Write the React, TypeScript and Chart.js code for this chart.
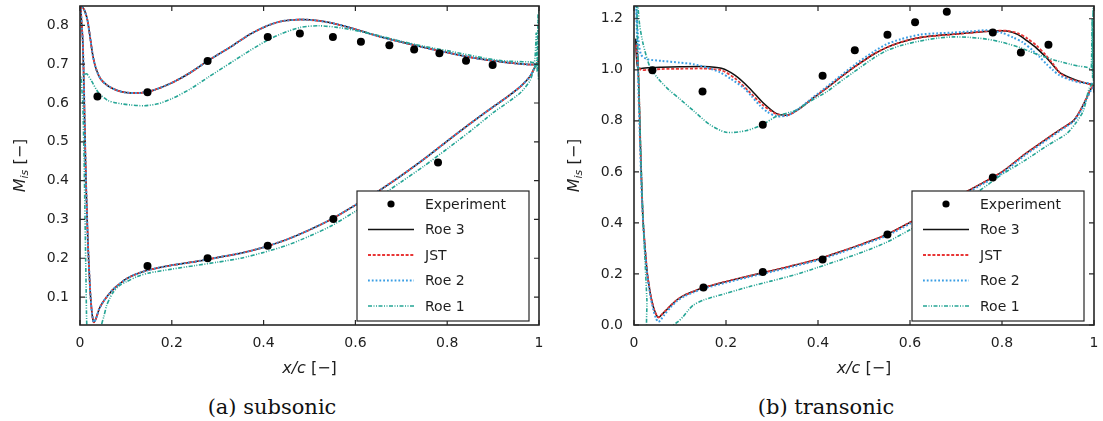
import React, { useEffect, useRef } from "react";
import { Chart, registerables } from "chart.js";
Chart.register(...registerables);

type P = [number, number];

// ---------- ticks, labels ----------
const xTickValues = [0, 0.2, 0.4, 0.6, 0.8, 1];
const xTickLabels = ["0", "0.2", "0.4", "0.6", "0.8", "1"];
const yTickValuesA = [0.1, 0.2, 0.3, 0.4, 0.5, 0.6, 0.7, 0.8];
const yTickLabelsA = ["0.1", "0.2", "0.3", "0.4", "0.5", "0.6", "0.7", "0.8"];
const yTickValuesB = [0, 0.2, 0.4, 0.6, 0.8, 1.0, 1.2];
const yTickLabelsB = ["0.0", "0.2", "0.4", "0.6", "0.8", "1.0", "1.2"];
const seriesNames = ["Experiment", "Roe 3", "JST", "Roe 2", "Roe 1"];
const captions = ["(a) subsonic", "(b) transonic"];

// ---------- (a) subsonic ----------
const expA: P[] = [
  [0.038, 0.617], [0.147, 0.628], [0.278, 0.708], [0.409, 0.77], [0.479, 0.779],
  [0.551, 0.77], [0.612, 0.758], [0.674, 0.749], [0.728, 0.738], [0.783, 0.728],
  [0.841, 0.709], [0.899, 0.698],
  [0.147, 0.18], [0.278, 0.2], [0.409, 0.232], [0.552, 0.301], [0.78, 0.447],
];

const roe3A: P[] = [
  [1.0, 0.70], [0.98, 0.699], [0.95, 0.702], [0.92, 0.706], [0.88, 0.712], [0.85, 0.718],
  [0.8, 0.73], [0.75, 0.743], [0.7, 0.757], [0.65, 0.772], [0.6, 0.79], [0.56, 0.803],
  [0.52, 0.812], [0.48, 0.815], [0.44, 0.811], [0.41, 0.8], [0.37, 0.777], [0.33, 0.746],
  [0.28, 0.71], [0.24, 0.678], [0.2, 0.652], [0.16, 0.633], [0.13, 0.626], [0.1, 0.627],
  [0.08, 0.633], [0.06, 0.645], [0.045, 0.662], [0.035, 0.688], [0.028, 0.722],
  [0.022, 0.77], [0.016, 0.815], [0.01, 0.838], [0.004, 0.848],
  [0.002, 0.84], [0.006, 0.76], [0.009, 0.62], [0.012, 0.45], [0.015, 0.32],
  [0.018, 0.22], [0.022, 0.12], [0.026, 0.06], [0.03, 0.035], [0.035, 0.045],
  [0.042, 0.07], [0.05, 0.087], [0.06, 0.103], [0.07, 0.117], [0.08, 0.128],
  [0.1, 0.146], [0.12, 0.158], [0.15, 0.17], [0.2, 0.182], [0.25, 0.191], [0.3, 0.202],
  [0.35, 0.213], [0.4, 0.228], [0.45, 0.248], [0.5, 0.273], [0.55, 0.302], [0.6, 0.337],
  [0.65, 0.373], [0.7, 0.413], [0.75, 0.456], [0.8, 0.502], [0.85, 0.547], [0.9, 0.59],
  [0.93, 0.615], [0.96, 0.643], [0.98, 0.668], [0.99, 0.69], [1.0, 0.71],
];
const jstA: P[] = roe3A;
const roe2A: P[] = roe3A;

const roe1A: P[] = [
  [1.0, 0.84], [0.999, 0.66], [0.998, 0.83], [0.996, 0.68], [0.994, 0.78], [0.99, 0.705],
  [0.98, 0.706], [0.95, 0.707], [0.92, 0.709], [0.88, 0.716], [0.85, 0.723], [0.8, 0.735],
  [0.75, 0.746], [0.7, 0.759], [0.65, 0.774], [0.6, 0.787], [0.56, 0.795], [0.52, 0.799],
  [0.48, 0.795], [0.44, 0.779], [0.41, 0.763], [0.37, 0.735], [0.33, 0.705], [0.28, 0.667],
  [0.24, 0.636], [0.2, 0.611], [0.17, 0.598], [0.14, 0.593], [0.11, 0.595], [0.08, 0.6],
  [0.06, 0.607], [0.04, 0.627], [0.025, 0.657], [0.015, 0.675], [0.008, 0.673], [0.003, 0.666],
  [0.006, 0.6], [0.009, 0.45], [0.011, 0.3], [0.013, 0.15], [0.015, 0.02], [0.02, -0.06],
  [0.04, -0.06], [0.047, 0.028], [0.052, 0.05], [0.058, 0.078], [0.065, 0.097],
  [0.072, 0.112], [0.085, 0.129], [0.102, 0.14], [0.125, 0.153], [0.15, 0.162],
  [0.2, 0.172], [0.25, 0.181], [0.3, 0.19], [0.35, 0.2], [0.4, 0.215], [0.45, 0.233],
  [0.5, 0.257], [0.55, 0.285], [0.6, 0.321], [0.65, 0.357], [0.7, 0.397], [0.75, 0.438],
  [0.8, 0.482], [0.85, 0.527], [0.9, 0.575], [0.93, 0.6], [0.96, 0.627], [0.98, 0.657],
  [0.99, 0.69], [1.0, 0.72],
];

// ---------- (b) transonic ----------
const expB: P[] = [
  [0.04, 0.998], [0.149, 0.915], [0.28, 0.785], [0.41, 0.977], [0.48, 1.077],
  [0.551, 1.137], [0.611, 1.186], [0.68, 1.227], [0.78, 1.146], [0.841, 1.068],
  [0.901, 1.098],
  [0.151, 0.147], [0.28, 0.208], [0.41, 0.257], [0.551, 0.355], [0.78, 0.578],
];

const roe3B: P[] = [
  [1.0, 0.91], [0.998, 0.94], [0.99, 0.945], [0.98, 0.948], [0.96, 0.96], [0.94, 0.975],
  [0.925, 0.99], [0.91, 1.02], [0.895, 1.05], [0.875, 1.085], [0.855, 1.113], [0.835, 1.138],
  [0.81, 1.152], [0.78, 1.152], [0.75, 1.148], [0.7, 1.14], [0.66, 1.134], [0.62, 1.126],
  [0.58, 1.108], [0.55, 1.088], [0.52, 1.06], [0.48, 1.012], [0.45, 0.972], [0.42, 0.93],
  [0.39, 0.89], [0.36, 0.848], [0.335, 0.823], [0.31, 0.828], [0.28, 0.872], [0.25, 0.93],
  [0.22, 0.978], [0.19, 1.006], [0.15, 1.013], [0.1, 1.012], [0.06, 1.01], [0.03, 1.008],
  [0.015, 1.005], [0.008, 1.01], [0.005, 1.06], [0.004, 1.12],
  [0.008, 1.05], [0.011, 0.9], [0.014, 0.7], [0.017, 0.53], [0.02, 0.4], [0.025, 0.28],
  [0.029, 0.2], [0.034, 0.14], [0.038, 0.1], [0.044, 0.06], [0.05, 0.035], [0.054, 0.03],
  [0.06, 0.04], [0.071, 0.06], [0.082, 0.08], [0.093, 0.098], [0.11, 0.117], [0.13, 0.132],
  [0.15, 0.146], [0.2, 0.17], [0.25, 0.192], [0.3, 0.213], [0.35, 0.235], [0.4, 0.258],
  [0.45, 0.288], [0.5, 0.32], [0.55, 0.355], [0.6, 0.402], [0.65, 0.451], [0.7, 0.5],
  [0.75, 0.549], [0.8, 0.6], [0.85, 0.67], [0.9, 0.733], [0.93, 0.77], [0.955, 0.8],
  [0.97, 0.84], [0.984, 0.89], [0.995, 0.93], [1.0, 0.93],
];

const jstB: P[] = [
  [1.0, 0.93], [0.99, 0.944], [0.96, 0.958], [0.94, 0.97], [0.925, 0.99], [0.91, 1.025],
  [0.895, 1.058], [0.875, 1.095], [0.855, 1.123], [0.835, 1.143], [0.81, 1.153],
  [0.78, 1.152], [0.75, 1.148], [0.7, 1.14], [0.66, 1.134], [0.62, 1.126], [0.58, 1.108],
  [0.55, 1.088], [0.52, 1.06], [0.48, 1.012], [0.45, 0.972], [0.42, 0.93], [0.39, 0.89],
  [0.36, 0.848], [0.335, 0.822], [0.31, 0.826], [0.28, 0.862], [0.25, 0.915], [0.22, 0.966],
  [0.19, 0.998], [0.15, 1.005], [0.1, 1.004], [0.06, 1.003], [0.03, 1.0], [0.015, 1.0],
  [0.008, 1.02], [0.005, 1.1],
  [0.008, 1.05], [0.011, 0.9], [0.014, 0.7], [0.017, 0.53], [0.02, 0.4], [0.025, 0.28],
  [0.029, 0.2], [0.034, 0.14], [0.038, 0.1], [0.044, 0.06], [0.05, 0.035], [0.054, 0.03],
  [0.06, 0.04], [0.071, 0.06], [0.082, 0.08], [0.093, 0.098], [0.11, 0.117], [0.13, 0.132],
  [0.15, 0.146], [0.2, 0.17], [0.25, 0.192], [0.3, 0.213], [0.35, 0.235], [0.4, 0.258],
  [0.45, 0.288], [0.5, 0.32], [0.55, 0.355], [0.6, 0.402], [0.65, 0.451], [0.7, 0.5],
  [0.75, 0.549], [0.8, 0.6], [0.85, 0.67], [0.9, 0.733], [0.93, 0.77], [0.955, 0.8],
  [0.97, 0.84], [0.984, 0.89], [0.995, 0.93], [1.0, 0.93],
];

const roe2B: P[] = [
  [1.0, 0.93], [0.995, 0.945], [0.97, 0.95], [0.95, 0.96], [0.926, 0.977], [0.91, 1.0],
  [0.897, 1.022], [0.882, 1.05], [0.868, 1.074], [0.845, 1.108], [0.825, 1.126],
  [0.8, 1.145], [0.767, 1.155], [0.73, 1.15], [0.694, 1.146], [0.66, 1.143], [0.622, 1.138],
  [0.58, 1.12], [0.549, 1.1], [0.52, 1.07], [0.48, 1.02], [0.45, 0.978], [0.42, 0.935],
  [0.39, 0.893], [0.36, 0.85], [0.335, 0.822], [0.31, 0.818], [0.29, 0.835], [0.274, 0.859],
  [0.255, 0.898], [0.238, 0.93], [0.21, 0.965], [0.187, 0.99], [0.16, 1.008], [0.129, 1.022],
  [0.1, 1.028], [0.06, 1.035], [0.028, 1.042], [0.015, 1.06], [0.008, 1.15], [0.004, 1.3],
  [0.007, 1.1], [0.01, 0.9], [0.013, 0.72], [0.016, 0.55], [0.02, 0.4], [0.025, 0.27],
  [0.03, 0.18], [0.036, 0.11], [0.042, 0.06], [0.048, 0.025], [0.053, 0.012], [0.058, 0.02],
  [0.066, 0.04], [0.08, 0.07], [0.093, 0.093], [0.11, 0.113], [0.13, 0.128], [0.15, 0.142],
  [0.2, 0.166], [0.25, 0.188], [0.3, 0.209], [0.35, 0.231], [0.4, 0.254], [0.45, 0.284],
  [0.5, 0.316], [0.55, 0.35], [0.6, 0.397], [0.65, 0.446], [0.7, 0.494], [0.75, 0.544],
  [0.8, 0.595], [0.85, 0.665], [0.9, 0.728], [0.93, 0.766], [0.955, 0.797], [0.97, 0.835],
  [0.984, 0.885], [0.995, 0.925], [1.0, 0.93],
];

const roe1B: P[] = [
  [1.0, 1.26], [0.999, 0.95], [0.998, 1.24], [0.997, 0.97], [0.996, 1.2], [0.994, 1.0],
  [0.99, 1.005], [0.984, 1.01], [0.965, 1.015], [0.948, 1.022], [0.92, 1.035], [0.897, 1.048],
  [0.87, 1.065], [0.839, 1.087], [0.8, 1.108], [0.767, 1.12], [0.73, 1.127], [0.694, 1.129],
  [0.66, 1.124], [0.622, 1.113], [0.58, 1.095], [0.549, 1.075], [0.52, 1.045], [0.477, 0.99],
  [0.448, 0.953], [0.42, 0.915], [0.383, 0.877], [0.35, 0.84], [0.31, 0.818], [0.28, 0.786],
  [0.245, 0.762], [0.2, 0.755], [0.165, 0.785], [0.129, 0.84], [0.1, 0.885], [0.078, 0.918],
  [0.055, 0.96], [0.035, 1.01], [0.02, 1.1], [0.012, 1.18], [0.006, 1.3],
  [0.008, 1.1], [0.012, 0.85], [0.016, 0.6], [0.02, 0.4], [0.024, 0.25], [0.028, 0.1],
  [0.032, -0.06], [0.08, -0.06], [0.086, 0.0], [0.095, 0.012], [0.107, 0.033],
  [0.118, 0.058], [0.129, 0.078], [0.151, 0.098], [0.2, 0.124], [0.25, 0.15], [0.3, 0.173],
  [0.35, 0.197], [0.4, 0.226], [0.45, 0.256], [0.5, 0.288], [0.55, 0.325], [0.6, 0.373],
  [0.65, 0.42], [0.7, 0.47], [0.75, 0.525], [0.8, 0.59], [0.85, 0.645], [0.9, 0.705],
  [0.94, 0.749], [0.96, 0.79], [0.977, 0.84], [0.99, 0.93], [1.0, 0.95],
];

// ---------- styles ----------
const FONT = "'DejaVu Sans'";
const TEXT = "#1e1e1e";
const STYLES: Record<string, { color: string; width: number; dash: number[] }> = {
  "Roe 3": { color: "#111111", width: 1.5, dash: [] },
  JST: { color: "#e83535", width: 1.8, dash: [3, 1.7] },
  "Roe 2": { color: "#3a9ee4", width: 2, dash: [1.8, 2] },
  "Roe 1": { color: "#25a595", width: 1.6, dash: [4, 1.5, 1, 1.5, 1, 1.5] },
};

const toXY = (arr: P[]) => arr.map(([x, y]) => ({ x, y }));

function buildDatasets(exp: P[], curves: Record<string, P[]>) {
  const lines = ["Roe 1", "Roe 2", "JST", "Roe 3"].map((n, i) => ({
    label: n,
    data: toXY(curves[n]),
    showLine: true,
    pointRadius: 0,
    pointHoverRadius: 0,
    borderColor: STYLES[n].color,
    backgroundColor: STYLES[n].color,
    borderWidth: STYLES[n].width,
    borderDash: STYLES[n].dash,
    tension: 0.25,
    fill: false,
    order: i + 1,
  }));
  return [
    {
      label: "Experiment",
      data: toXY(exp),
      showLine: false,
      pointRadius: 4,
      pointHoverRadius: 4,
      pointBackgroundColor: "#000",
      pointBorderColor: "#000",
      pointBorderWidth: 0,
      order: 0,
    },
    ...lines,
  ];
}

function labelFor(values: number[], labels: string[], v: number) {
  const i = values.findIndex((t) => Math.abs(t - v) < 1e-9);
  return i >= 0 ? labels[i] : "";
}

const framePlugin = {
  id: "frame",
  afterDraw(chart: any) {
    const { ctx, chartArea: a, scales } = chart;
    const xs = scales.x;
    const ys = scales.y;
    ctx.save();
    // inward ticks
    ctx.strokeStyle = "#262626";
    ctx.lineWidth = 1.2;
    ctx.setLineDash([]);
    ctx.beginPath();
    for (const t of xs.ticks) {
      const p = xs.getPixelForValue(t.value);
      ctx.moveTo(p, a.bottom);
      ctx.lineTo(p, a.bottom - 5);
      ctx.moveTo(p, a.top);
      ctx.lineTo(p, a.top + 5);
    }
    for (const t of ys.ticks) {
      const p = ys.getPixelForValue(t.value);
      ctx.moveTo(a.left, p);
      ctx.lineTo(a.left + 5, p);
      ctx.moveTo(a.right, p);
      ctx.lineTo(a.right - 5, p);
    }
    ctx.stroke();
    // box
    ctx.lineWidth = 1.6;
    ctx.strokeRect(a.left, a.top, a.right - a.left, a.bottom - a.top);

    // legend
    const w = 172;
    const h = 130;
    const x1 = a.right - 10 - w;
    const y1 = a.bottom - 4 - h;
    ctx.fillStyle = "#fff";
    ctx.fillRect(x1, y1, w, h);
    ctx.strokeStyle = "#262626";
    ctx.lineWidth = 1.2;
    ctx.strokeRect(x1, y1, w, h);
    ctx.font = `14px ${FONT}`;
    ctx.textBaseline = "middle";
    ctx.textAlign = "left";
    seriesNames.forEach((name, i) => {
      const yy = y1 + 13 + i * 25.5;
      if (name === "Experiment") {
        ctx.fillStyle = "#000";
        ctx.beginPath();
        ctx.arc(x1 + 34, yy, 3.6, 0, Math.PI * 2);
        ctx.fill();
      } else {
        const s = STYLES[name];
        ctx.strokeStyle = s.color;
        ctx.lineWidth = s.width;
        ctx.setLineDash(s.dash);
        ctx.beginPath();
        ctx.moveTo(x1 + 11, yy);
        ctx.lineTo(x1 + 57, yy);
        ctx.stroke();
        ctx.setLineDash([]);
      }
      ctx.fillStyle = TEXT;
      ctx.fillText(name, x1 + 68, yy + 1);
    });

    // y title  M_is [−]
    ctx.save();
    ctx.translate(a.left - 61, (a.top + a.bottom) / 2);
    ctx.rotate(-Math.PI / 2);
    ctx.textBaseline = "alphabetic";
    ctx.fillStyle = TEXT;
    ctx.font = `italic 16px ${FONT}`;
    const wM = ctx.measureText("M").width;
    ctx.font = `italic 11px ${FONT}`;
    const wS = ctx.measureText("is").width;
    ctx.font = `16px ${FONT}`;
    const wB = ctx.measureText(" [\u2212]").width;
    let x0 = -(wM + wS + wB) / 2;
    ctx.font = `italic 16px ${FONT}`;
    ctx.fillText("M", x0, 6);
    x0 += wM;
    ctx.font = `italic 11px ${FONT}`;
    ctx.fillText("is", x0, 9);
    x0 += wS;
    ctx.font = `16px ${FONT}`;
    ctx.fillText(" [\u2212]", x0, 6);
    ctx.restore();

    // x title  x/c [−]
    ctx.font = `italic 16px ${FONT}`;
    const wx = ctx.measureText("x/c").width;
    ctx.font = `16px ${FONT}`;
    const wb = ctx.measureText(" [\u2212]").width;
    let xx = (a.left + a.right) / 2 - (wx + wb) / 2;
    const ty = a.bottom + 48;
    ctx.textBaseline = "alphabetic";
    ctx.fillStyle = TEXT;
    ctx.font = `italic 16px ${FONT}`;
    ctx.fillText("x/c", xx, ty);
    xx += wx;
    ctx.font = `16px ${FONT}`;
    ctx.fillText(" [\u2212]", xx, ty);
    ctx.restore();
  },
};

function makeConfig(
  exp: P[],
  curves: Record<string, P[]>,
  yMin: number,
  yMax: number,
  yVals: number[],
  yLabels: string[],
  yWidth: number,
  rightPad: number
): any {
  return {
    type: "scatter",
    data: { datasets: buildDatasets(exp, curves) },
    options: {
      animation: false,
      responsive: false,
      devicePixelRatio: 1,
      events: [],
      layout: { padding: { top: 6, right: rightPad, left: 0, bottom: 0 } },
      plugins: { legend: { display: false }, tooltip: { enabled: false } },
      scales: {
        x: {
          type: "linear",
          min: 0,
          max: 1,
          grid: { display: false, drawTicks: false },
          border: { display: false },
          afterBuildTicks: (s: any) => {
            s.ticks = xTickValues.map((v) => ({ value: v }));
          },
          afterFit: (s: any) => {
            s.height = 60;
            s.paddingLeft = 0;
            s.paddingRight = 0;
          },
          ticks: {
            padding: 10,
            color: TEXT,
            maxRotation: 0,
            autoSkip: false,
            font: { family: FONT, size: 14 },
            callback: (v: number) => labelFor(xTickValues, xTickLabels, v),
          },
        },
        y: {
          type: "linear",
          min: yMin,
          max: yMax,
          grid: { display: false, drawTicks: false },
          border: { display: false },
          afterBuildTicks: (s: any) => {
            s.ticks = yVals.map((v) => ({ value: v }));
          },
          afterFit: (s: any) => {
            s.width = yWidth;
            s.paddingTop = 0;
            s.paddingBottom = 0;
          },
          ticks: {
            padding: 11,
            color: TEXT,
            autoSkip: false,
            font: { family: FONT, size: 14 },
            callback: (v: number) => labelFor(yVals, yLabels, v),
          },
        },
      },
    },
    plugins: [framePlugin],
  };
}

export default function App() {
  const refA = useRef<HTMLCanvasElement>(null);
  const refB = useRef<HTMLCanvasElement>(null);
  useEffect(() => {
    const cA = new Chart(
      refA.current as HTMLCanvasElement,
      makeConfig(expA, { "Roe 3": roe3A, JST: jstA, "Roe 2": roe2A, "Roe 1": roe1A }, 0.028, 0.85, yTickValuesA, yTickLabelsA, 80, 11)
    );
    const cB = new Chart(
      refB.current as HTMLCanvasElement,
      makeConfig(expB, { "Roe 3": roe3B, JST: jstB, "Roe 2": roe2B, "Roe 1": roe1B }, 0, 1.25, yTickValuesB, yTickLabelsB, 84, 9)
    );
    return () => {
      cA.destroy();
      cB.destroy();
    };
  }, []);
  const cap: React.CSSProperties = {
    position: "absolute",
    top: 397,
    textAlign: "center",
    fontFamily: "'DejaVu Serif'",
    fontSize: 21,
    lineHeight: "21px",
    color: "#111",
    whiteSpace: "nowrap",
  };
  return (
    <div style={{ position: "absolute", left: 0, top: 0, width: 1103, height: 421, background: "#fff", overflow: "hidden" }}>
      <canvas ref={refA} width={550} height={385} style={{ position: "absolute", left: 0, top: 0 }} />
      <canvas ref={refB} width={553} height={385} style={{ position: "absolute", left: 550, top: 0 }} />
      <div style={{ ...cap, left: 0, width: 544 }}>{captions[0]}</div>
      <div style={{ ...cap, left: 556, width: 540 }}>{captions[1]}</div>
    </div>
  );
}
